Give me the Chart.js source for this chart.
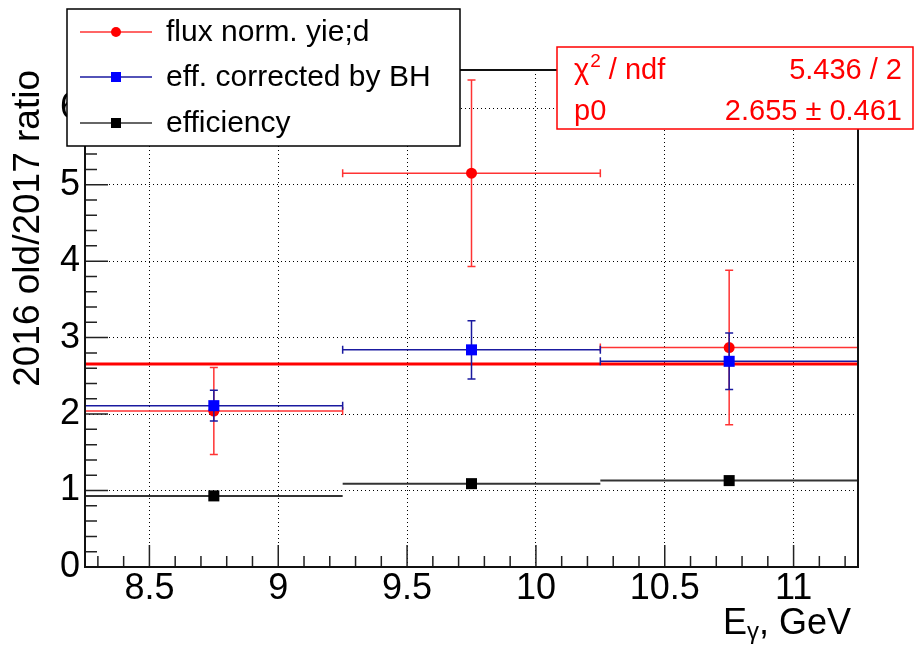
<!DOCTYPE html>
<html>
<head>
<meta charset="utf-8">
<script src="https://cdn.jsdelivr.net/npm/chart.js@4"></script>
<style>
  html, body { margin: 0; padding: 0; background: #fff; }
  #ratio { display: block; }
</style>
</head>
<body>
<canvas id="ratio" width="918" height="647"></canvas>
<script>
// photon energy bins (GeV)
const binCenters = [8.75, 9.75, 10.75];
const binHalfWidths = [0.5, 0.5, 0.5];

// 2016 old / 2017 ratios per bin
const fluxYield = [2.04, 5.15, 2.87];
const fluxYieldErr = [0.57, 1.22, 1.01];
const bhCorrected = [2.11, 2.84, 2.69];
const bhCorrectedErr = [0.20, 0.38, 0.37];
const efficiency = [0.93, 1.09, 1.13];
const efficiencyErr = [0, 0, 0];

// pol0 fit of the flux normalised yield
const fitP0 = 2.655;
const fitP0Err = 0.461;
const fitChi2 = 5.436;
const fitNdf = 2;

const xRange = [8.25, 11.25];
const yRange = [0, 6.5];
const xTicks = [8.5, 9, 9.5, 10, 10.5, 11];
const yTicks = [0, 1, 2, 3, 4, 5, 6];

const FONT = "'Liberation Sans', Arial, sans-serif";

function points(ys) {
  return binCenters.map((x, i) => ({ x: x, y: ys[i] }));
}

const rootStyle = {
  id: 'rootStyle',
  beforeDatasetDraw(chart, args) {
    const ds = chart.data.datasets[args.index];
    if (!ds.xErr) return;
    const xs = chart.scales.x, ys = chart.scales.y, ctx = chart.ctx;
    const cap = 4;
    ctx.save();
    ctx.strokeStyle = ds.errColor;
    ctx.lineWidth = ds.errWidth;
    ds.data.forEach((p, i) => {
      const px = xs.getPixelForValue(p.x);
      const py = ys.getPixelForValue(p.y);
      const x0 = xs.getPixelForValue(p.x - ds.xErr[i]);
      const x1 = xs.getPixelForValue(p.x + ds.xErr[i]);
      ctx.beginPath();
      ctx.moveTo(x0, py); ctx.lineTo(x1, py);
      if (ds.caps) {
        ctx.moveTo(x0, py - cap); ctx.lineTo(x0, py + cap);
        ctx.moveTo(x1, py - cap); ctx.lineTo(x1, py + cap);
      }
      if (ds.yErr[i] > 0) {
        const y0 = ys.getPixelForValue(p.y - ds.yErr[i]);
        const y1 = ys.getPixelForValue(p.y + ds.yErr[i]);
        ctx.moveTo(px, y0); ctx.lineTo(px, y1);
        if (ds.caps) {
          ctx.moveTo(px - cap, y0); ctx.lineTo(px + cap, y0);
          ctx.moveTo(px - cap, y1); ctx.lineTo(px + cap, y1);
        }
      }
      ctx.stroke();
    });
    ctx.restore();
  },
  afterDraw(chart) {
    const ctx = chart.ctx;
    const xs = chart.scales.x, ys = chart.scales.y;
    const { left, right, top, bottom } = chart.chartArea;
    ctx.save();

    // inward ticks, minor every 0.1 on x and 0.2 on y
    ctx.strokeStyle = '#222';
    ctx.lineWidth = 1.5;
    ctx.beginPath();
    for (let k = Math.ceil(xRange[0] * 10); k <= Math.floor(xRange[1] * 10); k++) {
      const px = xs.getPixelForValue(k / 10);
      const len = k % 5 === 0 ? 22 : 11;
      ctx.moveTo(px, bottom); ctx.lineTo(px, bottom - len);
    }
    for (let k = Math.ceil(yRange[0] * 5); k <= Math.floor(yRange[1] * 5); k++) {
      const py = ys.getPixelForValue(k / 5);
      const len = k % 5 === 0 ? 23 : 12;
      ctx.moveTo(left, py); ctx.lineTo(left + len, py);
    }
    ctx.stroke();

    // frame
    ctx.strokeStyle = '#111';
    ctx.lineWidth = 2;
    ctx.strokeRect(left, top, right - left, bottom - top);

    // x title with subscript gamma
    ctx.fillStyle = '#000';
    ctx.textBaseline = 'alphabetic';
    ctx.textAlign = 'left';
    const big = '36px ' + FONT, small = '24px ' + FONT;
    ctx.font = big;
    const wE = ctx.measureText('E').width;
    const wRest = ctx.measureText(', GeV').width;
    ctx.font = small;
    const wG = ctx.measureText('γ').width;
    let tx = 851 - (wE + wG + wRest);
    ctx.font = big; ctx.fillText('E', tx, 634); tx += wE;
    ctx.font = small; ctx.fillText('γ', tx, 639); tx += wG;
    ctx.font = big; ctx.fillText(', GeV', tx, 634);

    // legend
    ctx.fillStyle = '#fff';
    ctx.fillRect(67, 9, 393, 137);
    ctx.strokeStyle = '#000';
    ctx.lineWidth = 1.5;
    ctx.strokeRect(67, 9, 393, 137);
    const rows = [32, 77, 123];
    chart.data.datasets.filter(d => d.xErr).forEach((ds, i) => {
      const ry = rows[i];
      ctx.strokeStyle = ds.errColor;
      ctx.lineWidth = 1.5;
      ctx.beginPath(); ctx.moveTo(80, ry); ctx.lineTo(152, ry); ctx.stroke();
      ctx.fillStyle = ds.pointBackgroundColor;
      if (ds.pointStyle === 'circle') {
        ctx.beginPath(); ctx.arc(116, ry, 5, 0, Math.PI * 2); ctx.fill();
      } else {
        ctx.fillRect(111, ry - 5, 10, 10);
      }
      ctx.fillStyle = '#000';
      ctx.font = '30px ' + FONT;
      ctx.textBaseline = 'middle';
      ctx.fillText(ds.label, 166, ry + 1);
    });

    // fit statistics box
    ctx.fillStyle = '#fff';
    ctx.fillRect(557, 47, 356, 82);
    ctx.strokeStyle = '#ff0000';
    ctx.lineWidth = 1.5;
    ctx.strokeRect(557, 47, 356, 82);
    ctx.fillStyle = '#ff0000';
    ctx.textBaseline = 'alphabetic';
    const sf = '29px ' + FONT;
    ctx.font = sf;
    let sx = 574;
    ctx.fillText('χ', sx, 79); sx += ctx.measureText('χ').width + 1;
    ctx.font = '19px ' + FONT;
    ctx.fillText('2', sx, 67); sx += ctx.measureText('2').width;
    ctx.font = sf;
    ctx.fillText(' / ndf', sx, 79);
    ctx.fillText('p0', 574, 120);
    ctx.textAlign = 'right';
    ctx.fillText(fitChi2.toFixed(3) + ' / ' + fitNdf, 902, 79);
    ctx.fillText(fitP0.toFixed(3) + ' \u00b1 ' + fitP0Err.toFixed(3), 902, 120);

    ctx.restore();
  }
};

new Chart(document.getElementById('ratio').getContext('2d'), {
  type: 'scatter',
  data: {
    datasets: [
      {
        type: 'line',
        label: 'pol0',
        data: [{ x: xRange[0], y: fitP0 }, { x: xRange[1], y: fitP0 }],
        borderColor: '#ff0000',
        borderWidth: 3,
        pointRadius: 0,
        order: 4
      },
      {
        label: 'flux norm. yie;d',
        data: points(fluxYield),
        xErr: binHalfWidths, yErr: fluxYieldErr, caps: true,
        errColor: '#ff3333', errWidth: 1.5,
        pointStyle: 'circle', pointRadius: 5.5,
        pointBackgroundColor: '#ff0000', pointBorderWidth: 0,
        order: 3
      },
      {
        label: 'eff. corrected by BH',
        data: points(bhCorrected),
        xErr: binHalfWidths, yErr: bhCorrectedErr, caps: true,
        errColor: '#1a1aa0', errWidth: 1.5,
        pointStyle: 'rect', pointRadius: 7.8,
        pointBackgroundColor: '#0000ff', pointBorderWidth: 0,
        order: 2
      },
      {
        label: 'efficiency',
        data: points(efficiency),
        xErr: binHalfWidths, yErr: efficiencyErr, caps: false,
        errColor: '#333333', errWidth: 2,
        pointStyle: 'rect', pointRadius: 7.8,
        pointBackgroundColor: '#000000', pointBorderWidth: 0,
        order: 1
      }
    ]
  },
  options: {
    responsive: false,
    animation: false,
    events: [],
    layout: { padding: { top: 70, right: 60, left: 0, bottom: 0 } },
    plugins: { legend: { display: false }, tooltip: { enabled: false } },
    scales: {
      x: {
        type: 'linear',
        min: xRange[0],
        max: xRange[1],
        afterBuildTicks: s => { s.ticks = xTicks.map(v => ({ value: v })); },
        afterFit: s => { s.height = 80; },
        ticks: {
          font: { family: FONT, size: 36 }, color: '#000', padding: 0,
          maxRotation: 0, autoSkip: false,
          callback: v => String(v)
        },
        grid: { color: '#000', lineWidth: 1, drawTicks: false },
        border: { display: false, dash: [1, 3] }
      },
      y: {
        type: 'linear',
        min: yRange[0],
        max: yRange[1],
        afterBuildTicks: s => { s.ticks = yTicks.map(v => ({ value: v })); },
        afterFit: s => { s.width = 85; },
        ticks: {
          font: { family: FONT, size: 36 }, color: '#000', padding: 5,
          autoSkip: false,
          callback: v => String(v)
        },
        grid: { color: '#000', lineWidth: 1, drawTicks: false },
        border: { display: false, dash: [1, 3] },
        title: {
          display: true,
          text: '2016 old/2017 ratio',
          align: 'end',
          color: '#000',
          font: { family: FONT, size: 37 },
          padding: { top: 7, bottom: 0 }
        }
      }
    }
  },
  plugins: [rootStyle]
});
</script>
</body>
</html>
